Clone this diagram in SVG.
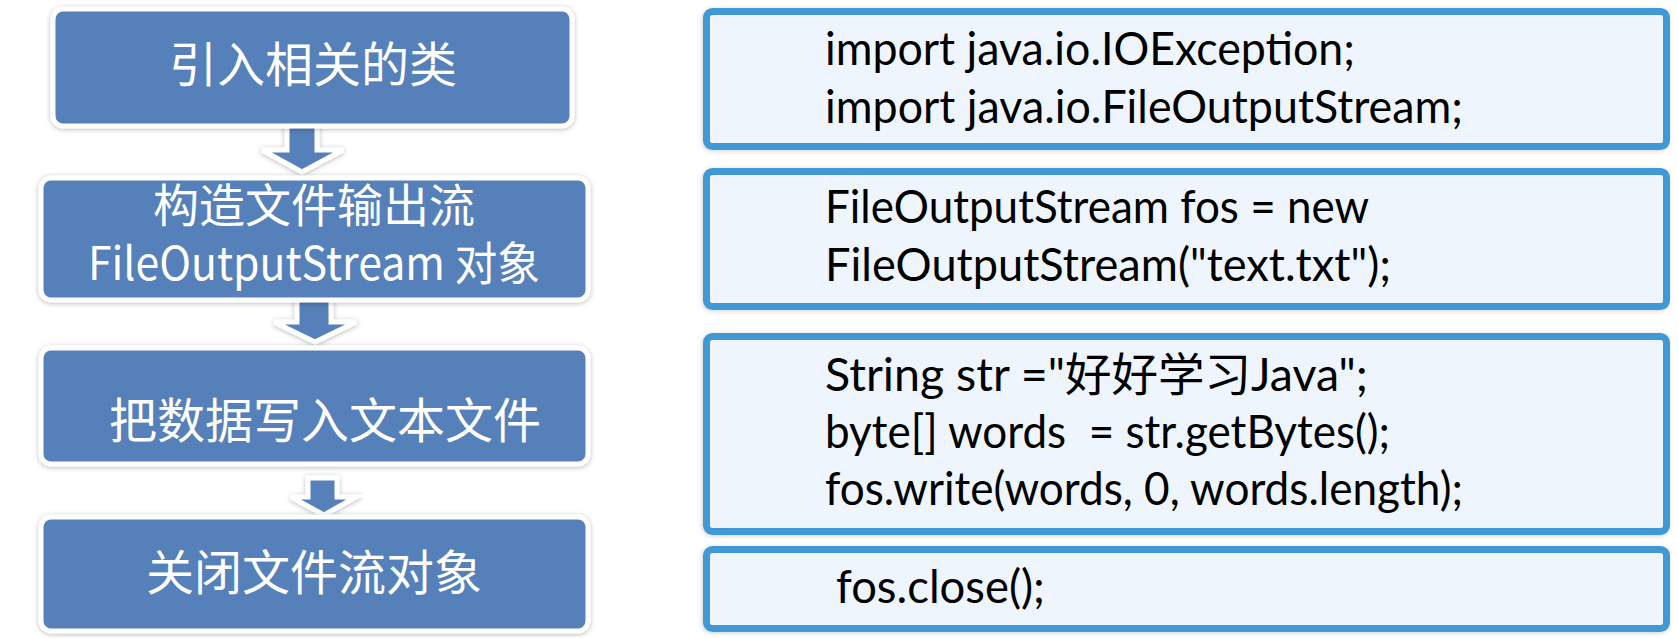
<svg xmlns="http://www.w3.org/2000/svg" width="1678" height="638" viewBox="0 0 1678 638">
<defs>
<filter id="sh" x="-10%" y="-20%" width="120%" height="140%">
<feDropShadow dx="0" dy="1" stdDeviation="2.5" flood-color="#000" flood-opacity="0.28"/>
</filter>
<filter id="sh2" x="-5%" y="-10%" width="110%" height="120%">
<feDropShadow dx="-1" dy="1" stdDeviation="2" flood-color="#000" flood-opacity="0.18"/>
</filter>
<style>
.step{fill:#5580b9;stroke:#fff;stroke-width:5;filter:url(#sh)}
.arr{fill:#5580b9;stroke:#fff;stroke-width:5;stroke-linejoin:miter;filter:url(#sh)}
.lbl{font-family:"Noto Sans CJK SC","Liberation Sans",sans-serif;font-size:48px;fill:#fff;text-anchor:middle}
.lbl2{font-size:46px}
.code{fill:#eef5fd;stroke:#3f98d4;stroke-width:7;filter:url(#sh2)}
.ct{font-family:"Lato","Noto Sans CJK SC",sans-serif;font-size:46px;fill:#000}
</style>
</defs>
<rect width="1678" height="638" fill="#fff"/>
<g id="connectors">
<path class="arr" d="M287,118 L317,118 L317,150 L343,150 L302,172 L262,150 L287,150 Z"/>
<path class="arr" d="M297,294 L331,294 L331,322 L356,322 L315,342 L274,322 L297,322 Z"/>
<path class="arr" d="M308,478 L337,478 L337,497 L356,497 L324,515 L291,497 L308,497 Z"/>
</g>
<g id="step1">
<rect class="step" x="53" y="9" width="519" height="117" rx="10"/>
<text class="lbl" x="313" y="82">引入相关的类</text>
</g>
<g id="step2">
<rect class="step" x="41" y="178" width="547" height="122" rx="10"/>
<text class="lbl lbl2" x="314" y="222">构造文件输出流</text>
<text class="lbl lbl2" x="314" y="280" textLength="452" lengthAdjust="spacingAndGlyphs">FileOutputStream 对象</text>
</g>
<g id="step3">
<rect class="step" x="41" y="348" width="547" height="116" rx="10"/>
<text class="lbl" x="325" y="438">把数据写入文本文件</text>
</g>
<g id="step4">
<rect class="step" x="41" y="517" width="547" height="114" rx="10"/>
<text class="lbl" x="314" y="590">关闭文件流对象</text>
</g>
<g id="code1">
<rect class="code" x="706.5" y="11.5" width="960" height="135" rx="6"/>
<text class="ct" x="825" y="65" textLength="530" lengthAdjust="spacingAndGlyphs">import java.io.IOException;</text>
<text class="ct" x="825" y="123" textLength="638" lengthAdjust="spacingAndGlyphs">import java.io.FileOutputStream;</text>
</g>
<g id="code2">
<rect class="code" x="706.5" y="171.5" width="960" height="135" rx="6"/>
<text class="ct" x="825" y="223" textLength="544" lengthAdjust="spacingAndGlyphs">FileOutputStream fos = new</text>
<text class="ct" x="825" y="281" textLength="566" lengthAdjust="spacingAndGlyphs">FileOutputStream("text.txt");</text>
</g>
<g id="code3">
<rect class="code" x="706.5" y="336.5" width="960" height="195" rx="6"/>
<text class="ct" x="825" y="391" textLength="543" lengthAdjust="spacingAndGlyphs">String str ="好好学习Java";</text>
<text class="ct" x="825" y="448" textLength="565" lengthAdjust="spacingAndGlyphs" xml:space="preserve">byte[] words  = str.getBytes();</text>
<text class="ct" x="825" y="505" textLength="638" lengthAdjust="spacingAndGlyphs">fos.write(words, 0, words.length);</text>
</g>
<g id="code4">
<rect class="code" x="706.5" y="549.5" width="960" height="79" rx="6"/>
<text class="ct" x="836" y="603" textLength="209" lengthAdjust="spacingAndGlyphs">fos.close();</text>
</g>
</svg>
